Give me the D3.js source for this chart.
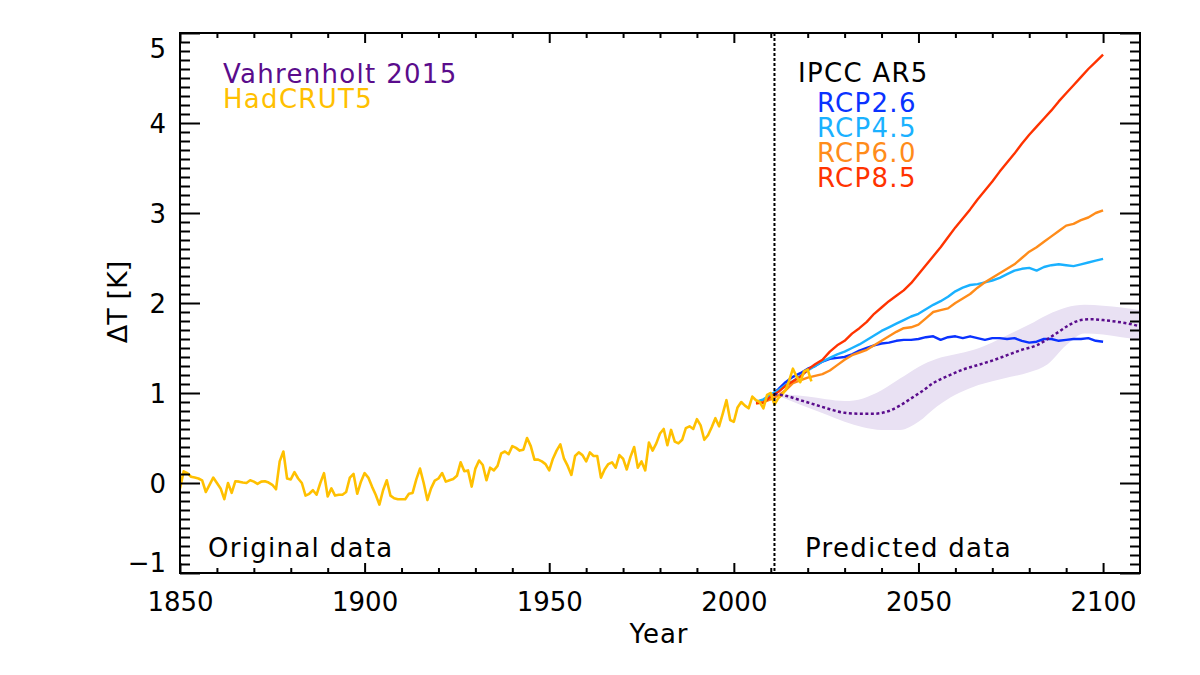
<!DOCTYPE html>
<html><head><meta charset="utf-8">
<script src="https://cdn.jsdelivr.net/npm/d3@7"></script>
<style>
body{margin:0;background:#fff}
svg{display:block}
text{font-family:"DejaVu Sans",sans-serif}
</style>
</head><body>
<svg id="c" width="1200" height="675"></svg>
<script>
// ---------------- data ----------------
const hadStartYear = 1850;
const hadcrut5 = [
 -0.06, 0.13, 0.11, 0.07, 0.06, 0.05, 0.03, -0.10, -0.02, 0.06,
 0.00, -0.06, -0.18, 0.00, -0.11, 0.02, 0.015, 0.005, 0.00, 0.03,
 0.015, -0.01, 0.015, 0.02, 0.005, -0.02, -0.07, 0.24, 0.35, 0.05,
 0.04, 0.12, 0.05, 0.00, -0.14, -0.12, -0.08, -0.13, 0.00, 0.11,
 -0.15, -0.06, -0.14, -0.13, -0.13, -0.10, 0.06, 0.10, -0.12, 0.015,
 0.11, 0.06, -0.04, -0.13, -0.24, -0.08, 0.03, -0.14, -0.17, -0.18,
 -0.18, -0.18, -0.12, -0.11, 0.04, 0.16, 0.00, -0.19, -0.06, 0.026,
 0.05, 0.11, 0.015, 0.03, 0.044, 0.08, 0.23, 0.13, 0.14, -0.04,
 0.16, 0.25, 0.20, 0.03, 0.17, 0.14, 0.19, 0.33, 0.35, 0.32,
 0.41, 0.39, 0.36, 0.37, 0.50, 0.41, 0.26, 0.26, 0.24, 0.21,
 0.14, 0.27, 0.36, 0.43, 0.27, 0.19, 0.09, 0.30, 0.34, 0.31,
 0.24, 0.34, 0.30, 0.30, 0.06, 0.15, 0.21, 0.23, 0.17, 0.31,
 0.27, 0.15, 0.29, 0.40, 0.17, 0.24, 0.14, 0.45, 0.36, 0.44,
 0.55, 0.60, 0.42, 0.59, 0.46, 0.44, 0.48, 0.61, 0.63, 0.60,
 0.71, 0.64, 0.48, 0.53, 0.62, 0.72, 0.63, 0.77, 0.92, 0.70,
 0.68, 0.84, 0.90, 0.86, 0.83, 0.96, 0.92, 0.90, 0.83, 0.98,
 1.00, 0.87, 0.94, 0.98, 1.03, 1.14, 1.27, 1.18, 1.12, 1.24,
 1.26, 1.13
];

const rcpYears = [2006,2008,2010,2012,2014,2016,2018,2020,2022,2024,2026,2028,2030,2032,2034,2036,2038,2040,2042,2044,2046,2048,2050,2052,2054,2056,2058,2060,2062,2064,2066,2068,2070,2072,2074,2076,2078,2080,2082,2084,2086,2088,2090,2092,2094,2096,2098,2100];
const rcp26 = [0.90,0.92,0.97,1.04,1.12,1.18,1.22,1.27,1.30,1.35,1.38,1.39,1.40,1.43,1.47,1.50,1.53,1.55,1.56,1.58,1.59,1.59,1.60,1.62,1.63,1.59,1.62,1.63,1.61,1.63,1.61,1.59,1.61,1.61,1.60,1.61,1.58,1.56,1.57,1.60,1.60,1.58,1.59,1.60,1.60,1.61,1.58,1.57];
const rcp45 = [0.90,0.93,0.98,1.03,1.09,1.13,1.19,1.25,1.30,1.35,1.39,1.43,1.46,1.50,1.54,1.59,1.64,1.69,1.73,1.77,1.81,1.85,1.88,1.93,1.98,2.02,2.07,2.13,2.17,2.20,2.21,2.23,2.25,2.28,2.32,2.36,2.38,2.39,2.36,2.40,2.42,2.43,2.42,2.41,2.43,2.45,2.47,2.49];
const rcp60 = [0.88,0.90,0.93,0.97,1.03,1.11,1.14,1.17,1.19,1.21,1.25,1.31,1.37,1.42,1.45,1.48,1.53,1.58,1.63,1.68,1.72,1.73,1.76,1.83,1.90,1.92,1.94,2.00,2.05,2.10,2.17,2.23,2.28,2.33,2.38,2.43,2.50,2.57,2.62,2.68,2.74,2.80,2.86,2.88,2.92,2.95,3.00,3.03];
const rcp85 = [0.89,0.89,0.96,1.01,1.08,1.13,1.18,1.26,1.32,1.37,1.46,1.53,1.58,1.66,1.72,1.79,1.88,1.95,2.02,2.08,2.14,2.22,2.32,2.42,2.52,2.62,2.73,2.84,2.94,3.04,3.15,3.25,3.35,3.46,3.56,3.66,3.77,3.87,3.96,4.05,4.14,4.24,4.33,4.42,4.51,4.60,4.68,4.76];

const vahYears = [2011,2014,2018,2022,2026,2030,2034,2038,2042,2045,2048,2051,2054,2058,2062,2066,2070,2074,2078,2082,2085,2088,2091,2094,2097,2100,2104,2107,2110];
const vahValues = [0.99,0.97,0.92,0.87,0.82,0.78,0.77,0.77,0.80,0.86,0.94,1.02,1.11,1.19,1.26,1.31,1.36,1.42,1.48,1.53,1.60,1.68,1.76,1.81,1.82,1.81,1.79,1.77,1.74];

const bandYears = [2011,2015,2020,2025,2030,2035,2040,2045,2050,2055,2060,2065,2070,2075,2080,2085,2090,2095,2100,2105,2110];
const bandUpper = [0.99,0.98,0.96,0.93,0.91,0.94,1.03,1.16,1.29,1.38,1.43,1.48,1.56,1.66,1.76,1.87,1.95,1.98,1.97,1.95,1.92];
const bandLower = [0.99,0.92,0.84,0.76,0.68,0.62,0.59,0.59,0.68,0.85,0.98,1.07,1.13,1.18,1.23,1.32,1.53,1.66,1.65,1.62,1.59];

const splitYear = 2011;
const xTickValues = [1850,1900,1950,2000,2050,2100];
const yTickValues = [-1,0,1,2,3,4,5];

// ---------------- chart ----------------
const svg = d3.select("#c");
const L = 180, R = 1140, T = 33, B = 573;
const x = d3.scaleLinear().domain([1850, 2110]).range([L, R]);
const y = d3.scaleLinear().domain([-1, 5]).range([B, T]);

svg.append("defs").append("clipPath").attr("id","clip")
  .append("rect").attr("x",L).attr("y",T).attr("width",R-L).attr("height",B-T);
const plot = svg.append("g").attr("clip-path","url(#clip)");

// band
const band = bandYears.map((yr,i)=>({yr, lo:bandLower[i], hi:bandUpper[i]}));
plot.append("path").datum(band)
  .attr("d", d3.area().x(d=>x(d.yr)).y0(d=>y(d.lo)).y1(d=>y(d.hi)).curve(d3.curveMonotoneX))
  .attr("fill","#e9e1f3");

const line = d3.line().x(d=>x(d[0])).y(d=>y(d[1]));

// RCP lines
const rcps = [
  {vals: rcp26, color:"#0a32ff"},
  {vals: rcp45, color:"#1ab1ff"},
  {vals: rcp60, color:"#ff8c1a"},
  {vals: rcp85, color:"#ff3300"}
];
rcps.forEach(s=>{
  plot.append("path").datum(rcpYears.map((yr,i)=>[yr, s.vals[i]]))
    .attr("d", line).attr("fill","none").attr("stroke", s.color)
    .attr("stroke-width",2.4).attr("stroke-linejoin","round");
});

// HadCRUT5
plot.append("path").datum(hadcrut5.map((v,i)=>[hadStartYear+i, v]))
  .attr("d", line).attr("fill","none").attr("stroke","#ffc000")
  .attr("stroke-width",2.6).attr("stroke-linejoin","round");

// Vahrenholt 2015
plot.append("path").datum(vahYears.map((yr,i)=>[yr, vahValues[i]]))
  .attr("d", d3.line().x(d=>x(d[0])).y(d=>y(d[1])).curve(d3.curveMonotoneX))
  .attr("fill","none").attr("stroke","#5a0c8c")
  .attr("stroke-width",2.5).attr("stroke-dasharray","3,2.5");

// split line
svg.append("line").attr("x1",x(splitYear)).attr("x2",x(splitYear)).attr("y1",T).attr("y2",B)
  .attr("stroke","#000").attr("stroke-width",2).attr("stroke-dasharray","3,2");

// axes
const xMinor = d3.range(1860, 2110, 10).filter(v=>v%50!==0);
const yMinor = d3.range(-10, 51).map(v=>v/10).filter(v=>Math.abs(v-Math.round(v))>1e-6);

function styleAxis(g){
  g.select(".domain").remove();
  g.selectAll("line").attr("stroke","#000").attr("stroke-width",2);
  g.selectAll("text").attr("font-size",26).attr("fill","#000").attr("font-family","DejaVu Sans, sans-serif");
}
// bottom
svg.append("g").attr("transform",`translate(0,${B})`)
  .call(d3.axisBottom(x).tickValues(xTickValues).tickSize(-10).tickPadding(20).tickFormat(d3.format("d")))
  .call(styleAxis);
svg.append("g").attr("transform",`translate(0,${B})`)
  .call(d3.axisBottom(x).tickValues(xMinor).tickSize(-5).tickFormat(""))
  .call(styleAxis);
// top
svg.append("g").attr("transform",`translate(0,${T})`)
  .call(d3.axisTop(x).tickValues(xTickValues).tickSize(-10).tickFormat(""))
  .call(styleAxis);
svg.append("g").attr("transform",`translate(0,${T})`)
  .call(d3.axisTop(x).tickValues(xMinor).tickSize(-5).tickFormat(""))
  .call(styleAxis);
// left
const leftAx = svg.append("g").attr("transform",`translate(${L},0)`)
  .call(d3.axisLeft(y).tickValues(yTickValues).tickSize(-20).tickPadding(14).tickFormat(d3.format("d")))
  .call(styleAxis);
leftAx.selectAll(".tick text").attr("dy", d => d===5 ? "0.95em" : (d===-1 ? "-0.05em" : "0.38em"))
  .attr("y", 0);
svg.append("g").attr("transform",`translate(${L},0)`)
  .call(d3.axisLeft(y).tickValues(yMinor).tickSize(-10).tickFormat(""))
  .call(styleAxis);
// right
svg.append("g").attr("transform",`translate(${R},0)`)
  .call(d3.axisRight(y).tickValues(yTickValues).tickSize(-20).tickFormat(""))
  .call(styleAxis);
svg.append("g").attr("transform",`translate(${R},0)`)
  .call(d3.axisRight(y).tickValues(yMinor).tickSize(-10).tickFormat(""))
  .call(styleAxis);

// frame
svg.append("rect").attr("x",L).attr("y",T).attr("width",R-L).attr("height",B-T)
  .attr("fill","none").attr("stroke","#000").attr("stroke-width",2);

// axis titles
svg.append("text").attr("x",659).attr("y",643).attr("text-anchor","middle")
  .attr("font-size",26).attr("letter-spacing",1).text("Year");
svg.append("text").attr("transform","translate(127,302) rotate(-90)").attr("text-anchor","middle")
  .attr("font-size",27).text("ΔT [K]");

// legends
const txt = (s, xx, yy, col) => svg.append("text").attr("x",xx).attr("y",yy)
  .attr("font-size",26).attr("letter-spacing",1.3).attr("fill",col).text(s);
txt("Vahrenholt 2015", 223, 83, "#5a0c8c");
txt("HadCRUT5", 223, 108, "#ffc000");
txt("IPCC AR5", 798, 82, "#000");
txt("RCP2.6", 817, 112, "#0a32ff");
txt("RCP4.5", 817, 137, "#1ab1ff");
txt("RCP6.0", 817, 162, "#ff8c1a");
txt("RCP8.5", 817, 187, "#ff3300");
txt("Original data", 208, 557, "#000");
txt("Predicted data", 805, 557, "#000");
</script>
</body></html>
